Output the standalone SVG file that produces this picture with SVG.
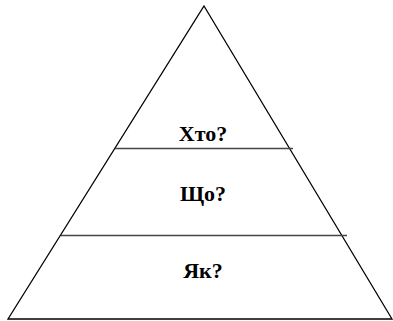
<svg xmlns="http://www.w3.org/2000/svg" width="393" height="321" viewBox="0 0 393 321">
<style>
.lbl{font-family:"Liberation Serif","Times New Roman",serif;font-weight:bold;font-size:22px;fill:#000;text-anchor:middle}
.edge{stroke:#000;stroke-width:1.3;fill:none}
.div{stroke:#444;stroke-width:1.5;fill:none}
</style>
<rect width="393" height="321" fill="#fff"/>
<g id="pyramid">
<polygon class="edge" points="204,6 392,319 8,319"/>
</g>
<g id="connectors">
<line class="div" x1="115" y1="148.5" x2="293" y2="148.5"/>
<line class="div" x1="61" y1="235.5" x2="347" y2="235.5"/>
</g>
<g id="level1"><text class="lbl" x="203" y="141">Хто?</text></g>
<g id="level2"><text class="lbl" x="203" y="201">Що?</text></g>
<g id="level3"><text class="lbl" x="203" y="278">Як?</text></g>
</svg>
